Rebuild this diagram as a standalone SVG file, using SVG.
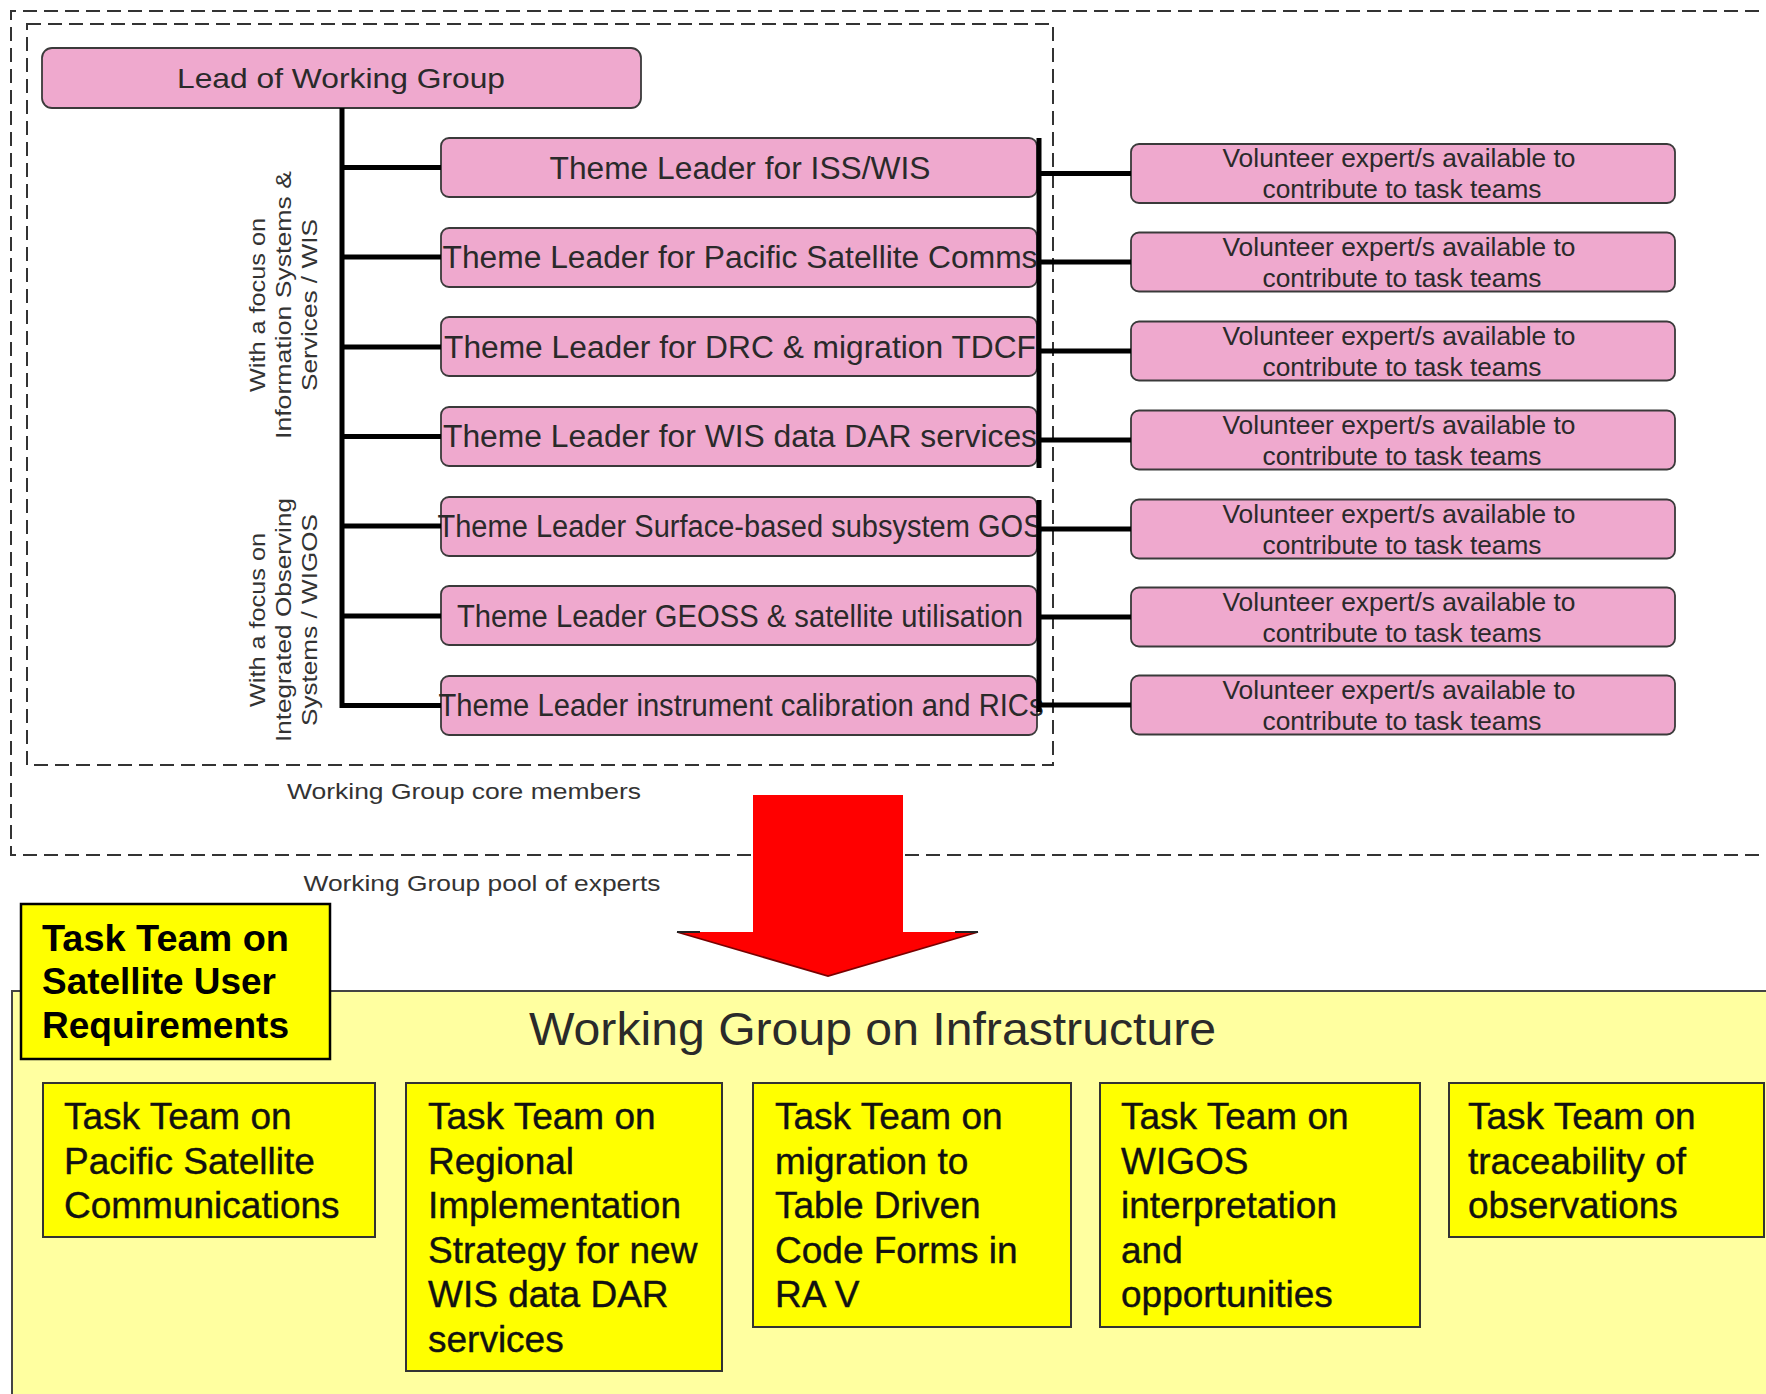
<svg xmlns="http://www.w3.org/2000/svg" width="1766" height="1394" viewBox="0 0 1766 1394">
<defs>
<style>
.dash{fill:none;stroke:#333;stroke-width:2;stroke-dasharray:14 7}
.pink{fill:#EFA9CE;stroke:#3a3a3a;stroke-width:1.8}
.tt{font-family:"Liberation Sans",Arial,sans-serif;fill:#2a2a2a}
.theme{font-size:31px;text-anchor:middle}
.vol{font-size:25px;text-anchor:middle}
.rot{font-size:22px;text-anchor:middle;fill:#333}
.cap{font-size:22px;text-anchor:middle;fill:#333}
.conn{stroke:#000;stroke-width:5;fill:none}
.task{fill:#FFFF00;stroke:#333;stroke-width:2}
.tk{font-family:"Liberation Sans",Arial,sans-serif;font-size:37px;fill:#111;stroke:#111;stroke-width:0.4}
.tb{font-family:"Liberation Sans",Arial,sans-serif;font-size:36px;font-weight:bold;fill:#000}
</style>
</defs>
<rect width="1766" height="1394" fill="#fff"/>

<!-- dashed group frames -->
<g id="frames">
<path class="dash" d="M1780,11 H11 V855 H1780"/>
<rect class="dash" x="27" y="24" width="1026" height="741"/>
</g>

<!-- Lead -->
<g id="lead">
<rect class="pink" x="42" y="48" width="599" height="60" rx="10"/>
<text class="tt" x="341" y="88" font-size="28" text-anchor="middle" textLength="328" lengthAdjust="spacingAndGlyphs">Lead of Working Group</text>
</g>

<!-- Theme leaders -->
<g id="theme1"><rect class="pink" x="441" y="138" width="596" height="59" rx="8"/><text class="tt theme" x="740" y="179" textLength="381" lengthAdjust="spacingAndGlyphs">Theme Leader for ISS/WIS</text></g>
<g id="theme2"><rect class="pink" x="441" y="228" width="596" height="59" rx="8"/><text class="tt theme" x="740" y="268" textLength="595" lengthAdjust="spacingAndGlyphs">Theme Leader for Pacific Satellite Comms</text></g>
<g id="theme3"><rect class="pink" x="441" y="317" width="596" height="59" rx="8"/><text class="tt theme" x="740" y="358" textLength="592" lengthAdjust="spacingAndGlyphs">Theme Leader for DRC &amp; migration TDCF</text></g>
<g id="theme4"><rect class="pink" x="441" y="407" width="596" height="59" rx="8"/><text class="tt theme" x="740" y="447" textLength="594" lengthAdjust="spacingAndGlyphs">Theme Leader for WIS data DAR services</text></g>
<g id="theme5"><rect class="pink" x="441" y="497" width="596" height="59" rx="8"/><text class="tt theme" x="740" y="537" textLength="605" lengthAdjust="spacingAndGlyphs">Theme Leader Surface-based subsystem GOS</text></g>
<g id="theme6"><rect class="pink" x="441" y="586" width="596" height="59" rx="8"/><text class="tt theme" x="740" y="627" textLength="566" lengthAdjust="spacingAndGlyphs">Theme Leader GEOSS &amp; satellite utilisation</text></g>
<g id="theme7"><rect class="pink" x="441" y="676" width="596" height="59" rx="8"/><text class="tt theme" x="741" y="716" textLength="605" lengthAdjust="spacingAndGlyphs">Theme Leader instrument calibration and RICs</text></g>

<!-- Volunteers -->
<g id="vol1"><rect class="pink" x="1131" y="144" width="544" height="59" rx="8"/><text class="tt vol" x="1399" y="167" textLength="353" lengthAdjust="spacingAndGlyphs">Volunteer expert/s available to</text><text class="tt vol" x="1402" y="198" textLength="279" lengthAdjust="spacingAndGlyphs">contribute to task teams</text></g>
<g id="vol2"><rect class="pink" x="1131" y="232.5" width="544" height="59" rx="8"/><text class="tt vol" x="1399" y="255.5" textLength="353" lengthAdjust="spacingAndGlyphs">Volunteer expert/s available to</text><text class="tt vol" x="1402" y="286.5" textLength="279" lengthAdjust="spacingAndGlyphs">contribute to task teams</text></g>
<g id="vol3"><rect class="pink" x="1131" y="321.5" width="544" height="59" rx="8"/><text class="tt vol" x="1399" y="344.5" textLength="353" lengthAdjust="spacingAndGlyphs">Volunteer expert/s available to</text><text class="tt vol" x="1402" y="375.5" textLength="279" lengthAdjust="spacingAndGlyphs">contribute to task teams</text></g>
<g id="vol4"><rect class="pink" x="1131" y="410.5" width="544" height="59" rx="8"/><text class="tt vol" x="1399" y="433.5" textLength="353" lengthAdjust="spacingAndGlyphs">Volunteer expert/s available to</text><text class="tt vol" x="1402" y="464.5" textLength="279" lengthAdjust="spacingAndGlyphs">contribute to task teams</text></g>
<g id="vol5"><rect class="pink" x="1131" y="499.5" width="544" height="59" rx="8"/><text class="tt vol" x="1399" y="522.5" textLength="353" lengthAdjust="spacingAndGlyphs">Volunteer expert/s available to</text><text class="tt vol" x="1402" y="553.5" textLength="279" lengthAdjust="spacingAndGlyphs">contribute to task teams</text></g>
<g id="vol6"><rect class="pink" x="1131" y="587.5" width="544" height="59" rx="8"/><text class="tt vol" x="1399" y="610.5" textLength="353" lengthAdjust="spacingAndGlyphs">Volunteer expert/s available to</text><text class="tt vol" x="1402" y="641.5" textLength="279" lengthAdjust="spacingAndGlyphs">contribute to task teams</text></g>
<g id="vol7"><rect class="pink" x="1131" y="675.5" width="544" height="59" rx="8"/><text class="tt vol" x="1399" y="698.5" textLength="353" lengthAdjust="spacingAndGlyphs">Volunteer expert/s available to</text><text class="tt vol" x="1402" y="729.5" textLength="279" lengthAdjust="spacingAndGlyphs">contribute to task teams</text></g>

<!-- Connectors -->
<g id="connectors">
<path class="conn" d="M342,108 V708"/>
<path class="conn" d="M342,167.5 H441 M342,257 H441 M342,347 H441 M342,436.5 H441 M342,526 H441 M342,616 H441 M340,705.5 H441"/>
<path class="conn" stroke-width="6" d="M1039,138 V468 M1039,500 V712"/>
<path class="conn" d="M1039,173.5 H1131 M1039,262 H1131 M1039,351 H1131 M1039,440 H1131 M1039,529 H1131 M1039,617 H1131 M1039,705 H1131"/>
</g>

<!-- Side labels -->
<g id="label-wis">
<text class="tt rot" transform="translate(265,305) rotate(-90)" textLength="174" lengthAdjust="spacingAndGlyphs">With a focus on</text>
<text class="tt rot" transform="translate(291,305) rotate(-90)" textLength="268" lengthAdjust="spacingAndGlyphs">Information Systems &amp;</text>
<text class="tt rot" transform="translate(317,305) rotate(-90)" textLength="172" lengthAdjust="spacingAndGlyphs">Services / WIS</text>
</g>
<g id="label-wigos">
<text class="tt rot" transform="translate(265,620) rotate(-90)" textLength="174" lengthAdjust="spacingAndGlyphs">With a focus on</text>
<text class="tt rot" transform="translate(291,620) rotate(-90)" textLength="244" lengthAdjust="spacingAndGlyphs">Integrated Observing</text>
<text class="tt rot" transform="translate(317,620) rotate(-90)" textLength="212" lengthAdjust="spacingAndGlyphs">Systems / WIGOS</text>
</g>
<g id="frame-labels">
<text class="tt cap" x="464" y="799" textLength="354" lengthAdjust="spacingAndGlyphs">Working Group core members</text>
<text class="tt cap" x="482" y="891" textLength="357" lengthAdjust="spacingAndGlyphs">Working Group pool of experts</text>
</g>

<!-- Working Group on Infrastructure -->
<g id="wg-infra">
<rect x="12" y="991" width="1770" height="420" fill="#FFFFA0" stroke="#444" stroke-width="2"/>
<text class="tt" x="529" y="1045" font-size="46" fill="#111" textLength="687" lengthAdjust="spacingAndGlyphs">Working Group on Infrastructure</text>
</g>

<!-- Red arrow -->
<g id="arrow">
<polygon points="753,795 903,795 903,932 978,932 828,976 677,932 753,932" fill="#FF0000"/>
<path d="M677,932 L828,976 L978,932" fill="none" stroke="#7a0000" stroke-width="1.8"/>
<path d="M677,932 H700 M955,932 H978" fill="none" stroke="#222" stroke-width="2"/>
</g>

<g id="tt-sat">
<rect x="21" y="904" width="309" height="155" fill="#FFFF00" stroke="#000" stroke-width="2.5"/>
<text class="tb" x="42" y="951" textLength="247" lengthAdjust="spacingAndGlyphs">Task Team on</text>
<text class="tb" x="42" y="994" textLength="234" lengthAdjust="spacingAndGlyphs">Satellite User</text>
<text class="tb" x="42" y="1038" textLength="247" lengthAdjust="spacingAndGlyphs">Requirements</text>
</g>

<g id="tt-pacific">
<rect class="task" x="43" y="1083" width="332" height="154"/>
<text class="tk" x="64" y="1129">Task Team on</text>
<text class="tk" x="64" y="1173.5">Pacific Satellite</text>
<text class="tk" x="64" y="1218">Communications</text>
</g>
<g id="tt-regional">
<rect class="task" x="406" y="1083" width="316" height="288"/>
<text class="tk" x="428" y="1129">Task Team on</text>
<text class="tk" x="428" y="1173.5">Regional</text>
<text class="tk" x="428" y="1218">Implementation</text>
<text class="tk" x="428" y="1262.5">Strategy for new</text>
<text class="tk" x="428" y="1307">WIS data DAR</text>
<text class="tk" x="428" y="1351.5">services</text>
</g>
<g id="tt-tdcf">
<rect class="task" x="753" y="1083" width="318" height="244"/>
<text class="tk" x="775" y="1129">Task Team on</text>
<text class="tk" x="775" y="1173.5">migration to</text>
<text class="tk" x="775" y="1218">Table Driven</text>
<text class="tk" x="775" y="1262.5">Code Forms in</text>
<text class="tk" x="775" y="1307">RA V</text>
</g>
<g id="tt-wigos">
<rect class="task" x="1100" y="1083" width="320" height="244"/>
<text class="tk" x="1121" y="1129">Task Team on</text>
<text class="tk" x="1121" y="1173.5">WIGOS</text>
<text class="tk" x="1121" y="1218">interpretation</text>
<text class="tk" x="1121" y="1262.5">and</text>
<text class="tk" x="1121" y="1307">opportunities</text>
</g>
<g id="tt-trace">
<rect class="task" x="1449" y="1083" width="315" height="154"/>
<text class="tk" x="1468" y="1129">Task Team on</text>
<text class="tk" x="1468" y="1173.5">traceability of</text>
<text class="tk" x="1468" y="1218">observations</text>
</g>
</svg>
